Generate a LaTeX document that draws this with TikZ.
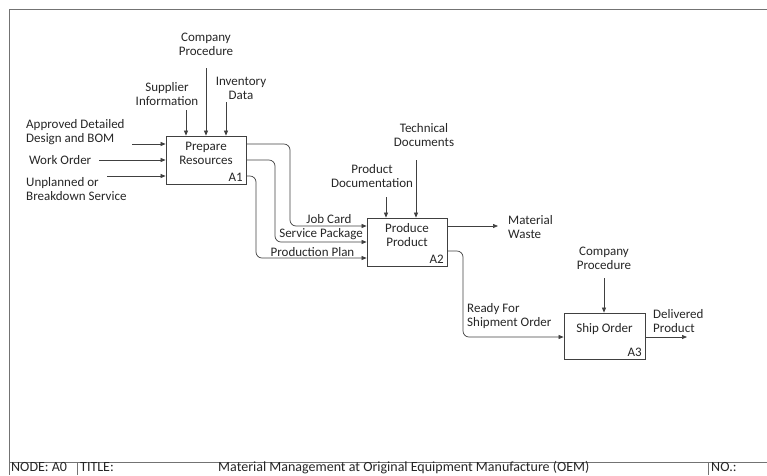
\documentclass[tikz,border=0pt]{standalone}
\usepackage{fontspec}
\setmainfont{Carlito}
\usetikzlibrary{arrows.meta,calc}
\begin{document}
\begin{tikzpicture}[x=1pt,y=-1pt,
  lbl/.style={font=\fontsize{13}{14}\selectfont, inner sep=0pt, align=center, text=black!85},
  lbll/.style={lbl, align=left, anchor=west},
  strip/.style={lbl, anchor=base west, font=\fontsize{14}{15}\selectfont},
  fn/.style={draw=black!75, line width=0.8pt, fill=white, inner sep=0pt},
  arr/.style={draw=black!75, line width=0.7pt, -{Triangle[length=5pt,width=4pt]}, rounded corners=6pt},
  frm/.style={draw=black!55, line width=0.8pt}]
\useasboundingbox (0,0) rectangle (767,475);
% frame
\coordinate (ftl) at (9,9);
\coordinate (ftr) at (767,9);
\coordinate (fbl) at (9,475);
\coordinate (sl) at (9,462);
\coordinate (sr) at (767,462);
\coordinate (s1t) at (77,462);
\coordinate (s1b) at (77,475);
\coordinate (s2t) at (708,462);
\coordinate (s2b) at (708,475);
\draw[frm] (ftr) -- (ftl) -- (fbl);
\draw[frm] (sl) -- (sr);
\draw[frm] (s1t) -- (s1b);
\draw[frm] (s2t) -- (s2b);
\node[strip] (nodelbl) at (11,471.5) {NODE: A0};
\node[strip] (titlelbl) at (80,471.5) {TITLE:};
\node[strip] (title) at (218,471.5) {Material Management at Original Equipment Manufacture (OEM)};
\node[strip] (nolbl) at (711,471.5) {NO.:};

% boxes
\node[fn, minimum width=80pt, minimum height=48pt] (a1) at (206,160) {};
\node[lbl] (a1t) at (206,153) {Prepare\\Resources};
\node[lbl, anchor=east] (a1n) at (243,177) {A1};

\node[fn, minimum width=80pt, minimum height=48pt] (a2) at (407,242) {};
\node[lbl] (a2t) at (407,235) {Produce\\Product};
\node[lbl, anchor=east] (a2n) at (444,259) {A2};

\node[fn, minimum width=81pt, minimum height=46pt] (a3) at (604.5,336) {};
\node[lbl] (a3t) at (604.5,329) {Ship Order};
\node[lbl, anchor=east] (a3n) at (642,352) {A3};

% inputs A1
\node[lbll] (in1t) at (26,132.5) {Approved Detailed\\Design and BOM};
\node[lbll] (in2t) at (29,160) {Work Order};
\node[lbll] (in3t) at (26,189) {Unplanned or\\Breakdown Service};
\coordinate (i1) at (132,144);
\coordinate (i2) at (99,160);
\coordinate (i3) at (107,176);
\draw[arr] (i1) -- (i1 -| a1.west);
\draw[arr] (i2) -- (i2 -| a1.west);
\draw[arr] (i3) -- (i3 -| a1.west);

% controls A1
\node[lbl] (c1t) at (167,94) {Supplier\\Information};
\node[lbl] (c2t) at (206,44) {Company\\Procedure};
\node[lbl] (c3t) at (241,88) {Inventory\\Data};
\coordinate (c1) at (186,110);
\coordinate (c2) at (206,68);
\coordinate (c3) at (226,102);
\draw[arr] (c1) -- (c1 |- a1.north);
\draw[arr] (c2) -- (c2 |- a1.north);
\draw[arr] (c3) -- (c3 |- a1.north);

% A1 -> A2
\draw[arr] ($(a1.east)+(0,-16)$) -- (290,144) -- (290,226) -- ($(a2.west)+(0,-16)$);
\draw[arr] (a1.east) -- (275,160) -- (275,242) -- (a2.west);
\draw[arr] ($(a1.east)+(0,16)$) -- (256,176) -- (256,258) -- ($(a2.west)+(0,16)$);
\node[lbl] (o1t) at (329,219) {Job Card};
\node[lbl] (o2t) at (321,234) {Service Package};
\node[lbl] (o3t) at (312.5,252) {Production Plan};

% controls A2
\node[lbl] (d1t) at (372,176) {Product\\Documentation};
\node[lbl] (d2t) at (424,135) {Technical\\Documents};
\coordinate (d1) at (386,197);
\coordinate (d2) at (416,160);
\draw[arr] (d1) -- (d1 |- a2.north);
\draw[arr] (d2) -- (d2 |- a2.north);

% outputs A2
\coordinate (mw) at (498,226);
\draw[arr] (mw -| a2.east) -- (mw);
\node[lbll] (mwt) at (508,227) {Material\\Waste};
\draw[arr] ($(a2.east)+(0,9)$) -- (463,251) -- (463,337) -- (a3.west |- 0,337);
\node[lbll] (rst) at (467,316) {Ready For\\Shipment Order};

% control A3
\node[lbl] (e1t) at (604,258) {Company\\Procedure};
\coordinate (e1) at (604,278);
\draw[arr] (e1) -- (e1 |- a3.north);

% output A3
\coordinate (dp) at (687,337);
\draw[arr] (dp -| a3.east) -- (dp);
\node[lbll] (dpt) at (653,321) {Delivered\\Product};
\end{tikzpicture}
\end{document}
